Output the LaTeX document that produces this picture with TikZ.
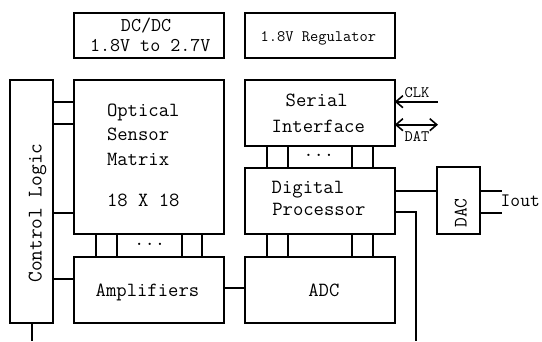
\documentclass[tikz,border=0pt]{standalone}
\usepackage{fontspec}
\usetikzlibrary{arrows.meta}
\tikzset{
  box/.style={draw, line width=1.8pt, inner sep=0pt, outer sep=0pt, anchor=north west},
  lbl/.style={inner sep=0pt, outer sep=0pt, anchor=base west, font=\ttfamily\fontsize{20.1}{22}\selectfont},
  sml/.style={inner sep=0pt, outer sep=0pt, anchor=base west, font=\ttfamily\fontsize{16}{18}\selectfont},
  mid/.style={inner sep=0pt, outer sep=0pt, anchor=base west, font=\ttfamily\fontsize{19}{21}\selectfont},
  dots/.style={inner sep=0pt, anchor=base, font=\ttfamily\fontsize{20.1}{22}\selectfont},
  wire/.style={line width=1.8pt},
  barb/.tip={Straight Barb[length=7pt,width=12pt,line width=1.6pt]}
}
\begin{document}
\begin{tikzpicture}[x=1pt,y=-1pt]
\useasboundingbox (0,0) rectangle (542,341);
% boxes
\node[box, minimum width=150pt, minimum height=45pt] (dcdc) at (74,13) {};
\node[box, minimum width=150pt, minimum height=45pt] (reg) at (244.7,13) {};
\node[box, minimum width=43pt, minimum height=243pt] (ctrl) at (10,80) {};
\node[box, minimum width=150pt, minimum height=154pt] (opt) at (74,80) {};
\node[box, minimum width=150pt, minimum height=66pt] (amp) at (74,257) {};
\node[box, minimum width=150pt, minimum height=66pt] (ser) at (244.7,80) {};
\node[box, minimum width=150pt, minimum height=66pt] (dig) at (244.7,168) {};
\node[box, minimum width=150pt, minimum height=66pt] (adc) at (244.7,257) {};
\node[box, minimum width=42.7pt, minimum height=67pt] (dac) at (437.3,167) {};
% texts
\node[lbl, font=\ttfamily\fontsize{19.5}{22}\selectfont] (t1) at (121,31.5) {DC/DC};
\node[lbl, font=\ttfamily\fontsize{19.5}{22}\selectfont] (t2) at (90,51.2) {1.8V to 2.7V};
\node[sml] (t3) at (260.7,41.7) {1.8V Regulator};
\node[lbl] (t4) at (107,116.7) {Optical};
\node[lbl] (t5) at (107,140) {Sensor};
\node[lbl] (t6) at (107,165) {Matrix};
\node[lbl] (t7) at (107,206.7) {18 X 18};
\node[lbl] (t8) at (95.7,296) {Amplifiers};
\node[lbl] (t9) at (285.7,106) {Serial};
\node[lbl] (t10) at (271.7,132.7) {Interface};
\node[lbl] (t11) at (271.7,193.3) {Digital};
\node[lbl] (t12) at (272.3,215.7) {Processor};
\node[lbl] (t13) at (308.3,296) {ADC};
\node[lbl, font=\ttfamily\fontsize{20.8}{22}\selectfont, rotate=90] (t14) at (41.7,282.7) {Control Logic};
\node[mid, rotate=90] (t15) at (466.7,227.7) {DAC};
\node[mid] (t16) at (500.7,206.7) {Iout};
\node[sml] (t17) at (404.7,97.3) {CLK};
\node[sml] (t18) at (404.7,141.7) {DAT};
\node[dots] (d1) at (149.7,245.7) {...};
\node[dots] (d2) at (318.8,156.7) {...};
% free ends
\coordinate (clk) at (438,101.7);
\coordinate (dat) at (438,124.7);
\coordinate (io1) at (501.7,190.7);
\coordinate (io2) at (501.7,212.7);
\coordinate (cout) at (32,341);
\coordinate (dout) at (415.7,341);
% control logic to optical / amplifiers
\draw[wire] (ctrl.east |- 0,101.7) -- (opt.west |- 0,101.7);
\draw[wire] (ctrl.east |- 0,124) -- (opt.west |- 0,124);
\draw[wire] (ctrl.east |- 0,212.7) -- (opt.west |- 0,212.7);
\draw[wire] (ctrl.east |- 0,279) -- (amp.west |- 0,279);
\draw[wire] (ctrl.south -| cout) -- (cout);
% optical to amplifiers bus
\foreach \x in {96,117,181.7,202}
  \draw[wire] (\x,0 |- opt.south) -- (\x,0 |- amp.north);
% serial to digital, digital to adc buses
\foreach \x in {266.7,287.7,352,373.3}{
  \draw[wire] (\x,0 |- ser.south) -- (\x,0 |- dig.north);
  \draw[wire] (\x,0 |- dig.south) -- (\x,0 |- adc.north);
}
% amplifiers to adc
\draw[wire] (amp.east |- 0,287.7) -- (adc.west |- 0,287.7);
% digital to dac and out
\draw[wire] (dig.east |- 0,190.7) -- (dac.west |- 0,190.7);
\draw[wire] (dig.east |- 0,212.3) -| (dout);
% dac outputs
\draw[wire] (dac.east |- io1) -- (io1);
\draw[wire] (dac.east |- io2) -- (io2);
% serial lines
\draw[wire, {barb}-] (ser.east |- clk) -- (clk);
\draw[wire, {barb}-{barb}] (ser.east |- dat) -- (dat);
\end{tikzpicture}
\end{document}
